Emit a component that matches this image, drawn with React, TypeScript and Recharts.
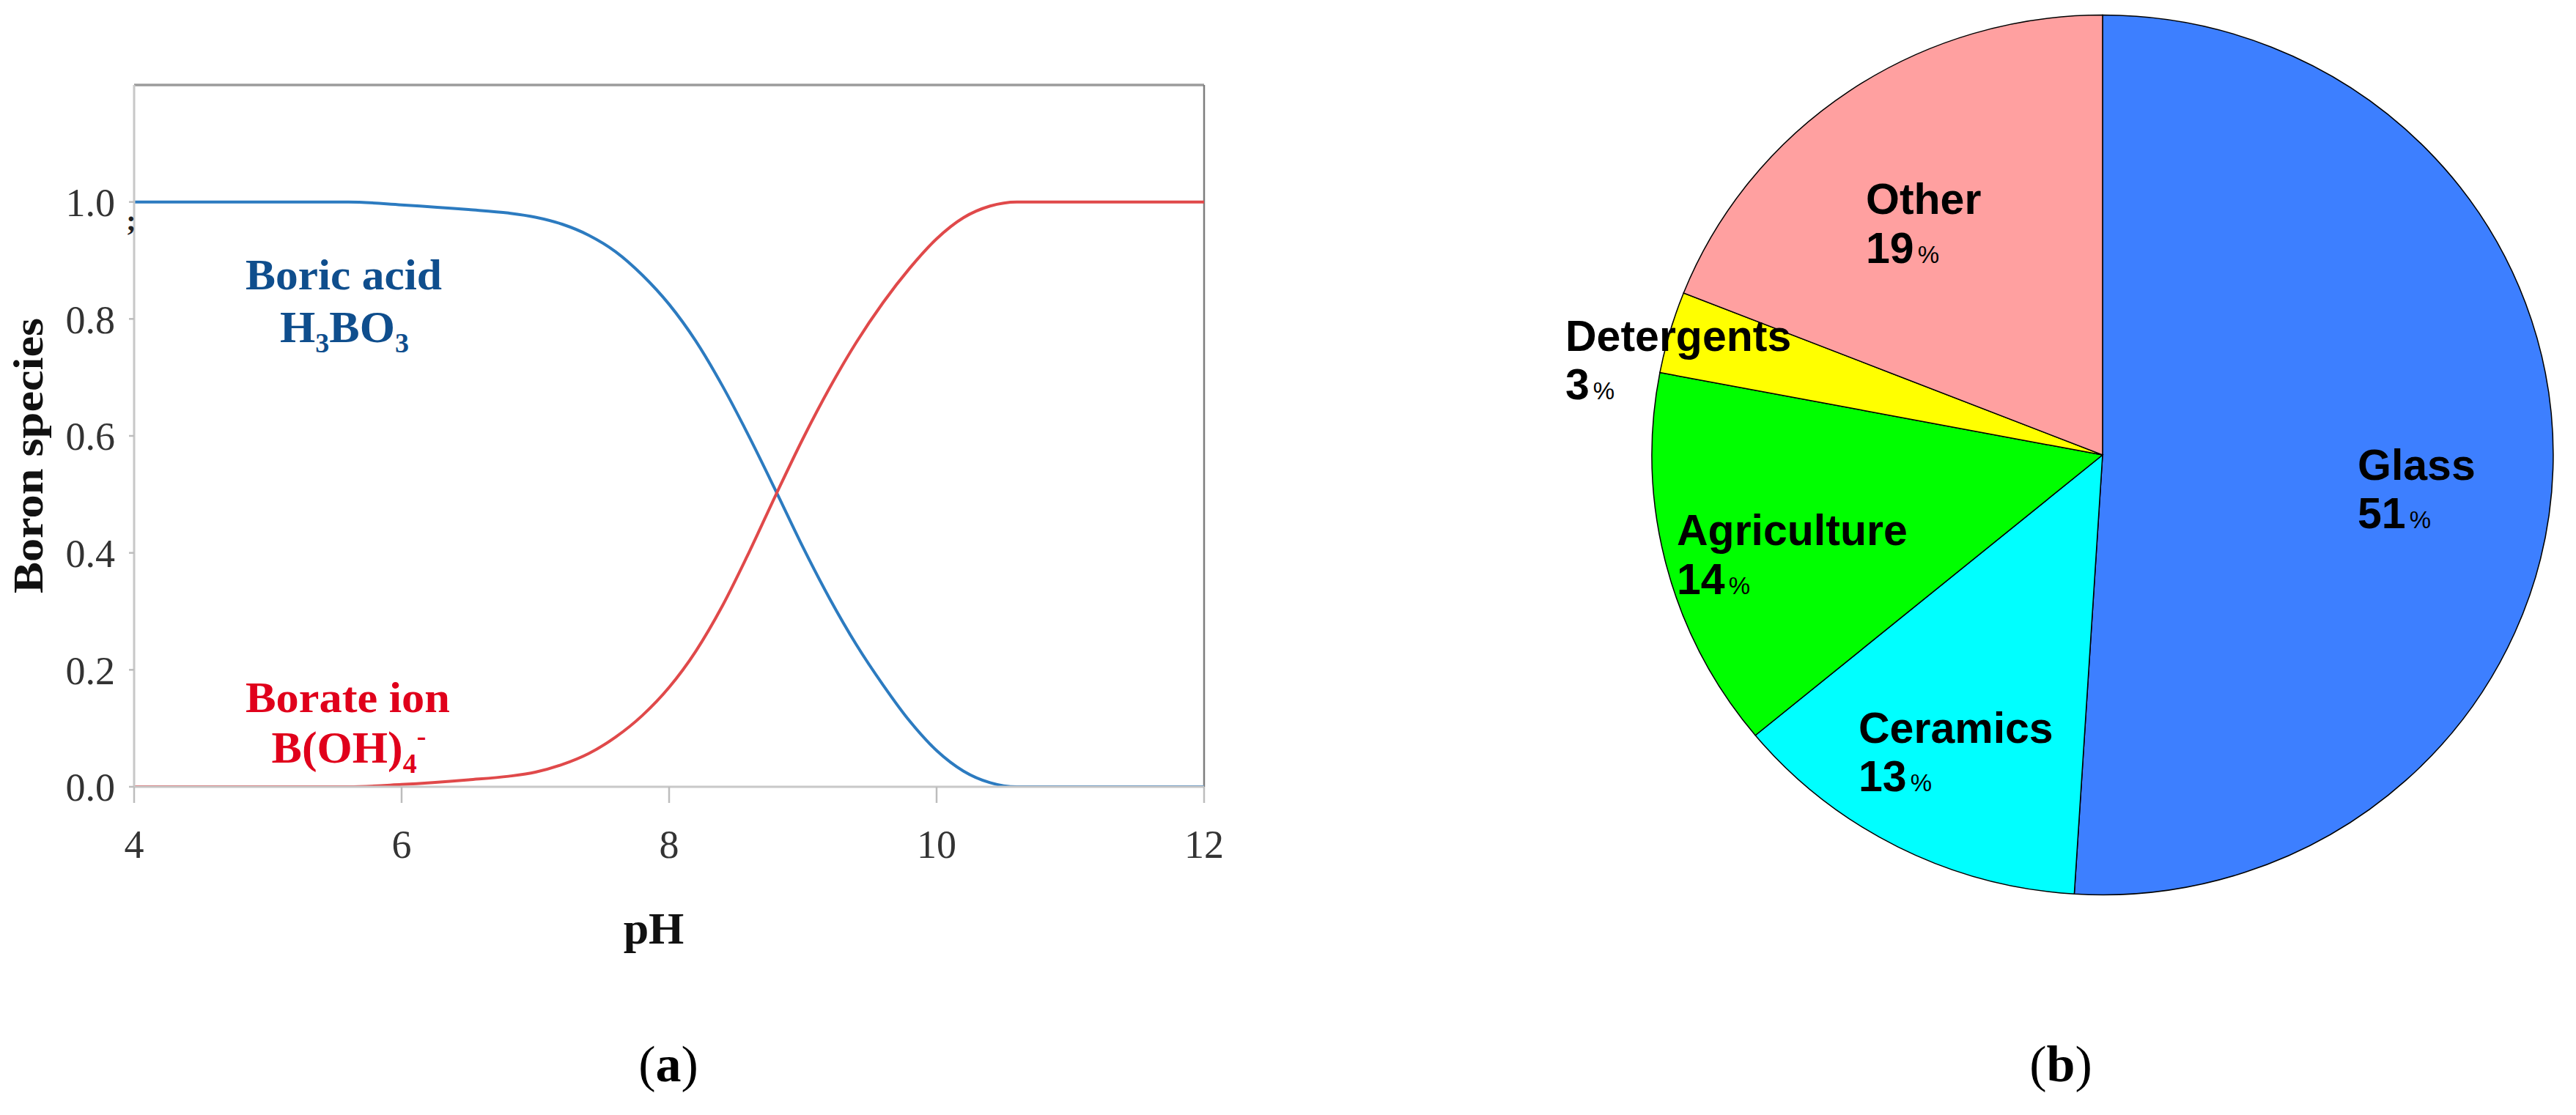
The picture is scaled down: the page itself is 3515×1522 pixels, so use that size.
import React from 'react';
import { LineChart, Line, XAxis, YAxis, ReferenceLine, PieChart, Pie, Cell } from 'recharts';

// ---------- (a) boron speciation vs pH ----------
const PH = [4, 4.5, 5, 5.6, 6, 6.5, 6.8, 7, 7.2, 7.4, 7.6, 7.8, 8, 8.2, 8.4, 8.6, 8.8, 9, 9.2, 9.4, 9.6, 9.8, 10, 10.2, 10.4, 10.6, 11, 11.5, 12];
const BORIC_ACID = [1, 1, 1, 1, 0.995, 0.987, 0.981, 0.974, 0.962, 0.943, 0.915, 0.875, 0.825, 0.762, 0.685, 0.598, 0.505, 0.41, 0.322, 0.243, 0.174, 0.112, 0.062, 0.027, 0.007, 0, 0, 0, 0];
const BORATE_ION = [0, 0, 0, 0, 0.004, 0.012, 0.018, 0.025, 0.038, 0.057, 0.085, 0.122, 0.17, 0.232, 0.31, 0.402, 0.5, 0.595, 0.682, 0.76, 0.828, 0.887, 0.937, 0.973, 0.993, 1, 1, 1, 1];
const PH_TICKS = [4, 6, 8, 10, 12];
const SPECIES_TICKS = [0, 0.2, 0.4, 0.6, 0.8, 1.0];

// ---------- (b) boron uses ----------
const USES = ['Glass', 'Ceramics', 'Agriculture', 'Detergents', 'Other'];
const USE_SHARES = [51, 13, 14, 3, 19];
const USE_COLORS = ['#3D7FFF', '#00FFFF', '#00FF00', '#FFFF00', '#FFA0A0'];

const speciesData = PH.map((ph, i) => ({ pH: ph, boric: BORIC_ACID[i], borate: BORATE_ION[i] }));
const useData = USES.map((name, i) => ({ name, value: USE_SHARES[i] }));

const SERIF = '"Liberation Serif", "Times New Roman", serif';
const SANS = '"Liberation Sans", Arial, sans-serif';
const BLUE_TEXT = '#0F4E8D';
const RED_TEXT = '#E0001B';

// layout of the pie (b)
const PIE_CX = 2869;
const PIE_CY = 620.5;
const PIE_R = 600.5;
const PIE_SX = 1.024;
const PIE_BOX = 1240;

const PIE_LABEL_POS: Record<string, { x: number; y: number }> = {
  Glass: { x: 3217, y: 654.5 },
  Ceramics: { x: 2536, y: 1013.6 },
  Agriculture: { x: 2288, y: 744.3 },
  Detergents: { x: 2136, y: 478.6 },
  Other: { x: 2546, y: 292 },
};
const PIE_LINE_GAP = 66.5;

const tickStyle = { fontSize: 54, fill: '#333', fontFamily: SERIF };

export default function App() {
  return (
    <div style={{ position: 'absolute', left: 0, top: 0, width: 3515, height: 1522, background: '#fff', overflow: 'hidden' }}>
      <div style={{ position: 'absolute', left: 0, top: 0 }}>
        <LineChart width={1700} height={1522} data={speciesData} margin={{ top: 116, right: 57, bottom: 348, left: 0 }}>
          <XAxis
            type="number"
            dataKey="pH"
            domain={[4, 12]}
            ticks={PH_TICKS}
            allowDataOverflow
            height={100}
            tickSize={22}
            tickMargin={37}
            axisLine={{ stroke: '#c8c8c8', strokeWidth: 3 }}
            tickLine={{ stroke: '#bdbdbd', strokeWidth: 2.5 }}
            tick={tickStyle}
          />
          <YAxis
            type="number"
            domain={[0, 1.2]}
            ticks={SPECIES_TICKS}
            allowDataOverflow
            width={183}
            tickSize={7}
            tickMargin={19}
            tickFormatter={(v: number) => v.toFixed(1)}
            axisLine={{ stroke: '#c8c8c8', strokeWidth: 3 }}
            tickLine={{ stroke: '#bdbdbd', strokeWidth: 2.5 }}
            tick={tickStyle}
          />
          <ReferenceLine y={1.2} stroke="#9b9b9b" strokeWidth={3.5} />
          <ReferenceLine x={12} stroke="#7d7d7d" strokeWidth={2.5} />
          <Line type="monotone" dataKey="boric" stroke="#2C7BC0" strokeWidth={4} dot={false} activeDot={false} isAnimationActive={false} />
          <Line type="monotone" dataKey="borate" stroke="#E0494A" strokeWidth={4} dot={false} activeDot={false} isAnimationActive={false} />
        </LineChart>
      </div>

      <div
        style={{
          position: 'absolute',
          left: PIE_CX - PIE_BOX / 2,
          top: PIE_CY - PIE_BOX / 2,
          width: PIE_BOX,
          height: PIE_BOX,
          transform: `scaleX(${PIE_SX})`,
          transformOrigin: '50% 50%',
        }}
      >
        <PieChart width={PIE_BOX} height={PIE_BOX} margin={{ top: 0, right: 0, bottom: 0, left: 0 }}>
          <Pie
            data={useData}
            dataKey="value"
            nameKey="name"
            cx="50%"
            cy="50%"
            outerRadius={PIE_R}
            startAngle={90}
            endAngle={-270}
            stroke="#000"
            strokeWidth={1.5}
            label={false}
            labelLine={false}
            isAnimationActive={false}
          >
            {useData.map((d, i) => (
              <Cell key={d.name} fill={USE_COLORS[i]} stroke="#000" strokeWidth={1.5} />
            ))}
          </Pie>
        </PieChart>
      </div>

      <svg
        width={3515}
        height={1522}
        style={{ position: 'absolute', left: 0, top: 0, pointerEvents: 'none' }}
      >
        {/* (a) texts */}
        <text
          transform="translate(58,622) rotate(-90)"
          textAnchor="middle"
          fontFamily={SERIF}
          fontWeight="bold"
          fontSize={57}
          fill="#111"
          textLength={376}
          lengthAdjust="spacingAndGlyphs"
        >
          Boron species
        </text>
        <text x={179} y={315} textAnchor="middle" fontFamily={SERIF} fontWeight="bold" fontSize={40} fill="#222">
          ;
        </text>
        <text x={892} y={1288} textAnchor="middle" fontFamily={SERIF} fontWeight="bold" fontSize={62} fill="#111">
          pH
        </text>
        <text
          x={469}
          y={395}
          textAnchor="middle"
          fontFamily={SERIF}
          fontWeight="bold"
          fontSize={60}
          fill={BLUE_TEXT}
          textLength={268}
          lengthAdjust="spacingAndGlyphs"
        >
          Boric acid
        </text>
        <text x={470} y={467} textAnchor="middle" fontFamily={SERIF} fontWeight="bold" fontSize={62} fill={BLUE_TEXT}>
          H
          <tspan fontSize={38} dy={14}>3</tspan>
          <tspan dy={-14}>BO</tspan>
          <tspan fontSize={38} dy={14}>3</tspan>
        </text>
        <text
          x={474.5}
          y={972}
          textAnchor="middle"
          fontFamily={SERIF}
          fontWeight="bold"
          fontSize={60}
          fill={RED_TEXT}
          textLength={279}
          lengthAdjust="spacingAndGlyphs"
        >
          Borate ion
        </text>
        <text x={476} y={1041} textAnchor="middle" fontFamily={SERIF} fontWeight="bold" fontSize={62} fill={RED_TEXT}>
          B(OH)
          <tspan fontSize={38} dy={14}>4</tspan>
          <tspan fontSize={38} dy={-38}>-</tspan>
        </text>
        <text x={912} y={1476} textAnchor="middle" fontFamily={SERIF} fontSize={70} fill="#000">
          (<tspan fontWeight="bold">a</tspan>)
        </text>

        {/* (b) texts */}
        {useData.map((d) => {
          const p = PIE_LABEL_POS[d.name];
          return (
            <g key={d.name}>
              <text x={p.x} y={p.y} fontFamily={SANS} fontWeight="bold" fontSize={59} fill="#000">
                {d.name}
              </text>
              <text x={p.x} y={p.y + PIE_LINE_GAP} fontFamily={SANS} fontWeight="bold" fontSize={59} fill="#000">
                {d.value}
                <tspan fontWeight="normal" fontSize={33} dx={5}>%</tspan>
              </text>
            </g>
          );
        })}
        <text x={2812} y={1476} textAnchor="middle" fontFamily={SERIF} fontSize={70} fill="#000">
          (<tspan fontWeight="bold">b</tspan>)
        </text>
      </svg>
    </div>
  );
}
